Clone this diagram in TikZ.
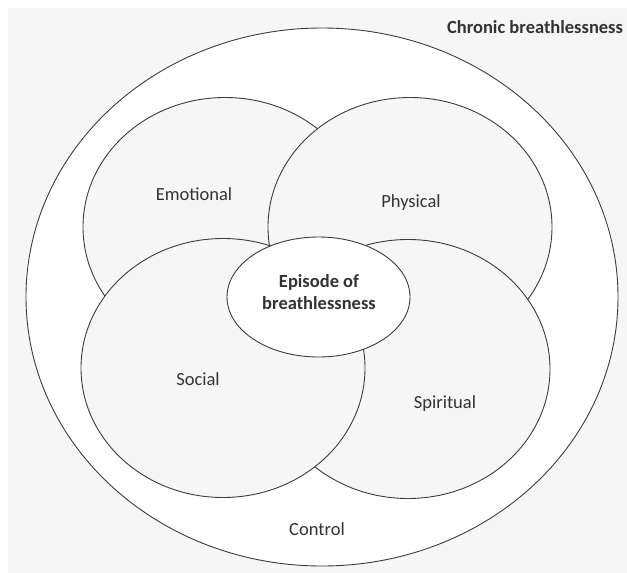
\documentclass[tikz,border=0pt]{standalone}
\usepackage{fontspec}
\setmainfont{Carlito}
\usetikzlibrary{shapes.geometric}
\definecolor{paper}{RGB}{246,246,246}
\definecolor{rim}{RGB}{60,60,60}
\newcommand{\lblsize}{\fontsize{18.5}{22}\selectfont}

\begin{document}
\begin{tikzpicture}[x=1pt,y=-1pt]
    \useasboundingbox (0,0) rectangle (627,573);
    \fill[paper] (8,8) rectangle (627,573);

    \begin{scope}[every node/.style={ellipse,draw=rim,line width=0.9pt,inner sep=0pt}]
        \node[fill=white,minimum width=592,minimum height=538] (chronic) at (322,297) {};
        \node[fill=paper,minimum width=284,minimum height=259] (emo) at (225,227) {};
        \node[fill=paper,minimum width=284,minimum height=259] (phys) at (410,227) {};
        \node[fill=paper,minimum width=284,minimum height=259] (spirit) at (408,369) {};
        \node[fill=paper,minimum width=284,minimum height=259] (soc) at (223,368) {};
        \node[fill=white,minimum width=183,minimum height=120] (episode) at (318.5,297) {};
    \end{scope}

    \begin{scope}[every node/.style={text=black!80,font=\lblsize}]
        \node (chroniclbl) at (535,27) {\bfseries Chronic breathlessness};
        \node (emolbl) at (194,194) {Emotional};
        \node (physlbl) at (411,203) {Physical};
        \node (soclbl) at (198,379) {Social};
        \node (spiritlbl) at (445,404) {Spiritual};
        \node (ctrllbl) at (317,529) {Control};
        \node[align=center,font=\lblsize\bfseries] (episodelbl) at (319,292) {Episode of\\breathlessness};
    \end{scope}
\end{tikzpicture}
\end{document}
